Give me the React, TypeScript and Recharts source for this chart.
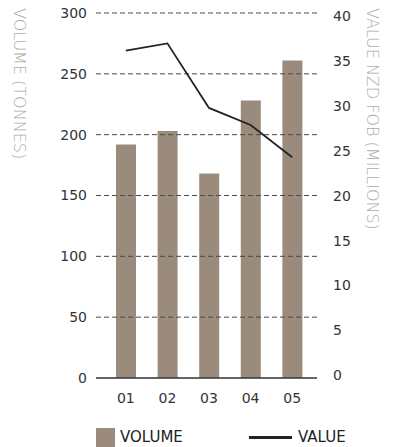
import React from 'react';
import { ComposedChart, Bar, Line, XAxis, YAxis, ReferenceLine } from 'recharts';

const categories = ['01', '02', '03', '04', '05'];
const volume = [192, 203, 168, 228, 261];
const value = [36.2, 37.0, 29.8, 27.9, 24.3];
const volumeTicks = [0, 50, 100, 150, 200, 250, 300];
const valueTicks = [0, 5, 10, 15, 20, 25, 30, 35, 40];
const gridValues = [50, 100, 150, 200, 250, 300];

const data = categories.map((c, i) => ({ cat: c, volume: volume[i], value: value[i] }));

const BAR = '#9a8b7c';
const LABEL = '#b3aaa0';
const TICK = '#333333';
const FONT = '"DejaVu Sans", sans-serif';

const LeftLabel = (props: any) => {
  const vb = props.viewBox || { x: 0, y: 13 };
  const x = vb.x + 19;
  const y = vb.y - 5;
  return (
    <text x={x} y={y} transform={`rotate(90, ${x}, ${y})`} fill={LABEL} fontSize={16} fontWeight={200}
      fontFamily={FONT} textAnchor="start" dominantBaseline="central">VOLUME (TONNES)</text>
  );
};

const RightLabel = (props: any) => {
  const vb = props.viewBox || { x: 317, y: 13, width: 76 };
  const x = vb.x + 55;
  const y = vb.y - 5;
  return (
    <text x={x} y={y} transform={`rotate(90, ${x}, ${y})`} fill={LABEL} fontSize={16} fontWeight={200}
      fontFamily={FONT} textAnchor="start" dominantBaseline="central">VALUE NZD FOB (MILLIONS)</text>
  );
};

export default function App() {
  return (
    <div style={{ position: 'absolute', left: 0, top: 0, width: 393, height: 447, background: '#fff', fontFamily: FONT }}>
      <ComposedChart width={393} height={447} data={data} margin={{ top: 13, right: 0, left: 0, bottom: 29 }}>
        <XAxis dataKey="cat" height={40} padding={{ left: 9, right: 4 }} tickLine={false}
          axisLine={{ stroke: '#333', strokeWidth: 1.5 }} tickSize={6} tickMargin={9}
          tick={{ fill: TICK, fontSize: 14, fontFamily: FONT }} />
        <YAxis yAxisId="left" orientation="left" width={96} domain={[0, 300]} ticks={volumeTicks}
          axisLine={false} tickLine={false} tickSize={6} tickMargin={3} interval={0}
          tick={{ fill: TICK, fontSize: 14, fontFamily: FONT }} label={<LeftLabel />} />
        <YAxis yAxisId="right" orientation="right" width={76} domain={[-0.33, 40.39]} ticks={valueTicks}
          axisLine={false} tickLine={false} tickSize={6} tickMargin={10} interval={0}
          tick={{ fill: TICK, fontSize: 14, fontFamily: FONT, textAnchor: 'start' }} label={<RightLabel />} />
        <Bar yAxisId="left" dataKey="volume" fill={BAR} barSize={20} isAnimationActive={false} />
        {gridValues.map((v) => (
          <ReferenceLine key={v} yAxisId="left" y={v} stroke="#4a4a4a" strokeDasharray="5 3" strokeWidth={1} />
        ))}
        <Line yAxisId="right" dataKey="value" stroke="#222" strokeWidth={1.8} dot={false} isAnimationActive={false} />
      </ComposedChart>
      <div style={{ position: 'absolute', left: 96, top: 428, width: 19, height: 19, background: BAR }} />
      <div style={{ position: 'absolute', left: 120, top: 428, height: 19, lineHeight: '19px', fontSize: 15, color: '#222', fontFamily: FONT }}>VOLUME</div>
      <div style={{ position: 'absolute', left: 249, top: 436, width: 43, height: 3, background: '#222' }} />
      <div style={{ position: 'absolute', left: 298, top: 428, height: 19, lineHeight: '19px', fontSize: 15, color: '#222', fontFamily: FONT }}>VALUE</div>
    </div>
  );
}
